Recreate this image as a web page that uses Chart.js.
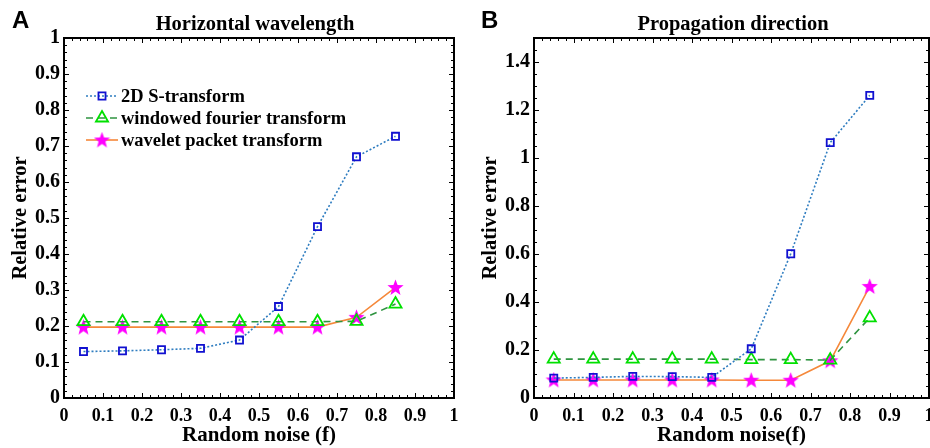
<!DOCTYPE html>
<html>
<head>
<meta charset="utf-8">
<script src="https://cdn.jsdelivr.net/npm/chart.js@4.4.1/dist/chart.umd.min.js"></script>
<style>
  html, body { margin: 0; padding: 0; width: 930px; height: 448px; overflow: hidden; background: #fff; }
  .panel { position: absolute; top: 0; height: 448px; }
  .tag { position: absolute; top: 6px; font: bold 24px 'Liberation Sans', Arial, sans-serif; color: #000; }
  .ttl { position: absolute; top: 12px; font: bold 20.5px 'Liberation Serif', 'Times New Roman', serif; color: #000; transform: translateX(-50%); white-space: nowrap; }
</style>
</head>
<body>
<div class="panel" style="left:0;width:470px"><canvas id="chartA"></canvas></div>
<div class="panel" style="left:470px;width:476px"><canvas id="chartB"></canvas></div>
<div class="tag" style="left:12px">A</div>
<div class="tag" style="left:481px">B</div>
<div class="ttl" style="left:255px">Horizontal wavelength</div>
<div class="ttl" style="left:733px">Propagation direction</div>
<script>
// Random noise levels (x)
const noise = [0.05, 0.15, 0.25, 0.35, 0.45, 0.55, 0.65, 0.75, 0.85];

// Panel A - horizontal wavelength
const hwS   = [0.129, 0.131, 0.134, 0.138, 0.161, 0.254, 0.476, 0.670, 0.727];
const hwWft = [0.212, 0.212, 0.212, 0.212, 0.212, 0.212, 0.212, 0.213, 0.261];
const hwWpt = [0.197, 0.197, 0.197, 0.197, 0.197, 0.197, 0.197, 0.224, 0.307];

// Panel B - propagation direction
const pdS   = [0.083, 0.086, 0.090, 0.089, 0.086, 0.205, 0.601, 1.064, 1.261];
const pdWft = [0.162, 0.162, 0.162, 0.162, 0.162, 0.160, 0.160, 0.158, 0.334];
const pdWpt = [0.075, 0.075, 0.075, 0.075, 0.075, 0.074, 0.074, 0.155, 0.465];

const seriesNames = ['2D S-transform', 'windowed fourier transform', 'wavelet packet transform'];

const SERIF = "'Liberation Serif', 'Times New Roman', serif";

// filled magenta star used as point style
function makeStar(size) {
    const c = document.createElement('canvas');
    c.width = size; c.height = size;
    const g = c.getContext('2d');
    const cx = size / 2, cy = size / 2 + 0.5, R = size / 2, r = R * 0.42;
    g.beginPath();
    for (let i = 0; i < 10; i++) {
        const rad = i % 2 ? r : R;
        const a = -Math.PI / 2 + i * Math.PI / 5;
        g.lineTo(cx + rad * Math.cos(a), cy + rad * Math.sin(a));
    }
    g.closePath();
    g.fillStyle = '#ff00ff';
    g.fill();
    return c;
}
const star = makeStar(17);

function pts(ys) {
    return noise.map((x, i) => ({ x: x, y: ys[i] }));
}

function makeDatasets(s, w, p) {
    return [
        {
            label: seriesNames[0],
            data: pts(s),
            borderColor: '#2f7dc0',
            borderWidth: 1.6,
            borderDash: [2, 2],
            pointStyle: 'rect',
            pointRadius: 5,
            pointBorderColor: '#1010d0',
            pointBackgroundColor: 'rgba(0,0,0,0)',
            pointBorderWidth: 1.8
        },
        {
            label: seriesNames[1],
            data: pts(w),
            borderColor: '#2f9440',
            borderWidth: 1.6,
            borderDash: [7, 5],
            pointStyle: 'triangle',
            pointRadius: 7,
            pointBorderColor: '#00e000',
            pointBackgroundColor: 'rgba(0,0,0,0)',
            pointBorderWidth: 1.8
        },
        {
            label: seriesNames[2],
            data: pts(p),
            borderColor: '#f5883a',
            borderWidth: 1.6,
            pointStyle: star,
            pointRadius: 8,
            pointBorderColor: '#ff00ff',
            pointBackgroundColor: '#ff00ff'
        }
    ];
}

// box frame with inward major / minor ticks on all four sides
const framePlugin = {
    id: 'frame',
    afterDraw(chart, args, opts) {
        const { ctx, chartArea: a, scales: { x, y } } = chart;
        ctx.save();
        ctx.strokeStyle = '#000';
        ctx.lineWidth = 1;
        ctx.beginPath();
        const eps = 1e-9;
        for (let v = x.min; v <= x.max + eps; v += opts.xMinor) {
            const px = Math.round(x.getPixelForValue(v)) + 0.5;
            const major = Math.abs(v / opts.xMajor - Math.round(v / opts.xMajor)) < 1e-6;
            const len = major ? 5 : 3;
            ctx.moveTo(px, a.bottom); ctx.lineTo(px, a.bottom - len);
            ctx.moveTo(px, a.top); ctx.lineTo(px, a.top + len);
        }
        for (let v = y.min; v <= y.max + eps; v += opts.yMinor) {
            const py = Math.round(y.getPixelForValue(v)) + 0.5;
            const major = Math.abs(v / opts.yMajor - Math.round(v / opts.yMajor)) < 1e-6;
            const len = major ? 5 : 3;
            ctx.moveTo(a.left, py); ctx.lineTo(a.left + len, py);
            ctx.moveTo(a.right, py); ctx.lineTo(a.right - len, py);
        }
        ctx.stroke();
        ctx.lineWidth = 2;
        ctx.strokeRect(a.left, a.top, a.right - a.left, a.bottom - a.top);
        ctx.restore();
    }
};

// legend drawn inside the plot area: line sample + marker + text
const insideLegend = {
    id: 'insideLegend',
    afterDatasetsDraw(chart, args, opts) {
        if (!opts.show) return;
        const ctx = chart.ctx;
        ctx.save();
        chart.data.datasets.forEach((ds, i) => {
            const yy = opts.y + i * opts.row;
            ctx.strokeStyle = ds.borderColor;
            ctx.lineWidth = ds.borderWidth;
            ctx.setLineDash(ds.borderDash || []);
            ctx.beginPath();
            ctx.moveTo(opts.x, yy);
            ctx.lineTo(opts.x + 32, yy);
            ctx.stroke();
            ctx.setLineDash([]);
            ctx.fillStyle = ds.pointBackgroundColor;
            ctx.strokeStyle = ds.pointBorderColor;
            ctx.lineWidth = ds.pointBorderWidth || 1;
            Chart.helpers.drawPoint(ctx, {
                pointStyle: ds.pointStyle, radius: ds.pointRadius, rotation: 0,
                borderWidth: ds.pointBorderWidth || 1
            }, opts.x + 16, yy);
            ctx.fillStyle = '#000';
            ctx.font = 'bold 18.5px ' + SERIF;
            ctx.textBaseline = 'middle';
            ctx.fillText(ds.label, opts.x + 35, yy + 1);
        });
        ctx.restore();
    }
};

const tickFmt = v => String(Number(v.toFixed(2)));

function makeChart(id, datasets, yMax, yStep, yMinor, showLegend, rightPad) {
    return new Chart(document.getElementById(id), {
        type: 'line',
        data: { datasets: datasets },
        plugins: [framePlugin, insideLegend],
        options: {
            responsive: true,
            maintainAspectRatio: false,
            animation: false,
            layout: { padding: { top: 38, right: rightPad, left: 0, bottom: 0 } },
            plugins: {
                legend: { display: false },
                tooltip: { enabled: false },
                frame: { xMajor: 0.1, xMinor: 0.02, yMajor: yStep, yMinor: yMinor },
                insideLegend: { show: showLegend, x: 86, y: 96, row: 22 }
            },
            scales: {
                x: {
                    type: 'linear',
                    min: 0, max: 1,
                    grid: { display: false, drawTicks: false },
                    border: { display: false },
                    ticks: {
                        stepSize: 0.1, padding: 8, maxRotation: 0, autoSkip: false,
                        callback: tickFmt,
                        color: '#000', font: { family: SERIF, size: 18, weight: 'bold' }
                    },
                    title: {
                        display: true, text: id === 'chartA' ? 'Random noise (f)' : 'Random noise(f)',
                        color: '#000', padding: { top: 0, bottom: 0 },
                        font: { family: SERIF, size: 21, weight: 'bold' }
                    },
                    afterFit(scale) { scale.height = 50; }
                },
                y: {
                    min: 0, max: yMax,
                    grid: { display: false, drawTicks: false },
                    border: { display: false },
                    ticks: {
                        stepSize: yStep, padding: 4, includeBounds: false,
                        callback: tickFmt,
                        color: '#000', font: { family: SERIF, size: 20, weight: 'bold' }
                    },
                    title: {
                        display: true, text: 'Relative error',
                        color: '#000', padding: { top: 8, bottom: 0 },
                        font: { family: SERIF, size: 20.5, weight: 'bold' }
                    },
                    afterFit(scale) { scale.width = 64; }
                }
            }
        }
    });
}

makeChart('chartA', makeDatasets(hwS, hwWft, hwWpt), 1, 0.1, 0.02, true, 16);
makeChart('chartB', makeDatasets(pdS, pdWft, pdWpt), 1.5, 0.2, 0.05, false, 17);
</script>
</body>
</html>
